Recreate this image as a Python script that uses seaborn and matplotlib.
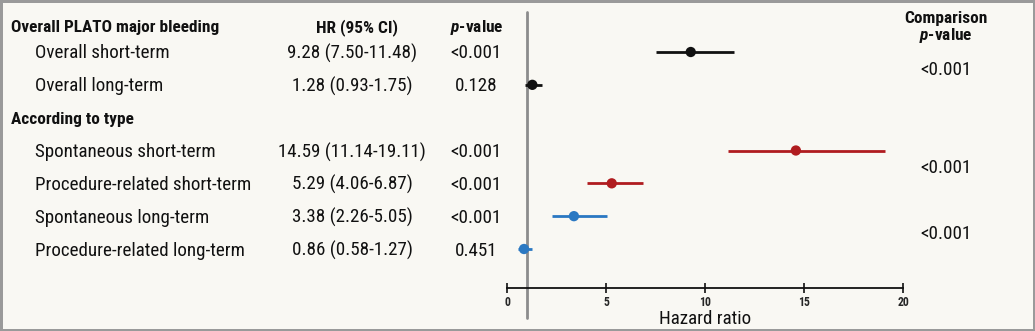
import matplotlib
matplotlib.use("Agg")
import matplotlib.pyplot as plt
import matplotlib.transforms as mtrans
import seaborn as sns
import pandas as pd

# ---- data ----
row_labels = ["Overall short-term", "Overall long-term", "According to type",
              "Spontaneous short-term", "Procedure-related short-term",
              "Spontaneous long-term", "Procedure-related long-term"]
row_is_header = [False, False, True, False, False, False, False]
hr = [9.28, 1.28, None, 14.59, 5.29, 3.38, 0.86]
ci_low = [7.50, 0.93, None, 11.14, 4.06, 2.26, 0.58]
ci_high = [11.48, 1.75, None, 19.11, 6.87, 5.05, 1.27]
hr_text = ["9.28 (7.50-11.48)", "1.28 (0.93-1.75)", "", "14.59 (11.14-19.11)",
           "5.29 (4.06-6.87)", "3.38 (2.26-5.05)", "0.86 (0.58-1.27)"]
p_text = ["<0.001", "0.128", "", "<0.001", "<0.001", "<0.001", "0.451"]
group = ["overall", "overall", None, "short", "short", "long", "long"]
comparison_rows = [0.5, 3.5, 5.5]
comparison_p = ["<0.001", "<0.001", "<0.001"]
x_ticks = [0, 5, 10, 15, 20]
header_title = "Overall PLATO major bleeding"

palette = {"overall": "#111111", "short": "#b01c1f", "long": "#2a78c2"}

# ---- style ----
sns.set_theme(style="white")
REG = "Roboto Condensed"
BOLD = "Roboto Condensed"
plt.rcParams["font.family"] = [REG, "DejaVu Sans"]
plt.rcParams["mathtext.fontset"] = "custom"
plt.rcParams["mathtext.it"] = BOLD + ":italic:bold"
plt.rcParams["mathtext.rm"] = BOLD + ":bold"
plt.rcParams["mathtext.bf"] = BOLD + ":bold"

BG = "#f9f8f3"
W, H = 1035, 331
fig = plt.figure(figsize=(W / 100, H / 100), dpi=100, facecolor=BG,
                 edgecolor="#9a9a9a", linewidth=2.5)
renderer = fig.canvas.get_renderer()


def fit_size(s, target_px, **kw):
    t = fig.text(0, 0, s, fontsize=10, **kw)
    w = t.get_window_extent(renderer).width
    t.remove()
    return 10 * target_px / w


FS = fit_size("Procedure-related short-term", 215, family=REG)
FSB = fit_size(header_title, 208, family=BOLD, fontweight="bold")

# axes placed in pixel coordinates
x0, x1 = 507, 903
ytop, ybot = 12, 288
ax = fig.add_axes([x0 / W, 1 - ybot / H, (x1 - x0) / W, (ybot - ytop) / H])
ax.set_facecolor("none")

df = pd.DataFrame({"row": range(len(row_labels)), "hr": hr, "lo": ci_low,
                   "hi": ci_high, "group": group}).dropna()

for g, sub in df.groupby("group"):
    ax.hlines(sub["row"], sub["lo"], sub["hi"], color=palette[g], lw=2.0, zorder=2)
sns.scatterplot(data=df, x="hr", y="row", hue="group", palette=palette, s=55,
                edgecolor="none", legend=False, ax=ax, zorder=3)

row0_px, row6_px = 52, 249
ppr = (row6_px - row0_px) / 6
ax.set_ylim((ybot - row0_px) / ppr, -(row0_px - ytop) / ppr)
ax.set_xlim(0, 20)
ax.axvline(1, ymin=-0.11, ymax=1, color="#8c8c8c", lw=2, clip_on=False, zorder=1)

for s in ["top", "right", "left"]:
    ax.spines[s].set_visible(False)
ax.spines["bottom"].set_color("#111111")
ax.spines["bottom"].set_linewidth(1.3)
ax.set_xticks(x_ticks)
ax.set_xticklabels([str(t) for t in x_ticks], fontsize=8.5, family=BOLD,
                   fontweight="bold")
ax.tick_params(axis="x", direction="inout", length=7, width=1.2, color="#111111",
               pad=2, bottom=True)
ax.set_yticks([])
ax.set_xlabel("Hazard ratio", fontsize=FS, labelpad=1, color="#111111")
ax.set_ylabel("")

tr0 = mtrans.blended_transform_factory(fig.transFigure, ax.transData)
tr = mtrans.offset_copy(tr0, fig=fig, y=-1.5, units="dots")
fx = lambda px: px / W
TXT = dict(color="#111111", va="center", transform=tr)
RT = dict(fontsize=FS, family=REG, **TXT)
BT = dict(fontsize=FSB, family=BOLD, fontweight="bold", **TXT)

header_row = -(row0_px - 26) / ppr
fig.text(fx(11), header_row, header_title, ha="left", **BT)
fig.text(fx(357), header_row, "HR (95% CI)", ha="center", **BT)
fig.text(fx(477), header_row, r"$p$-value", ha="center", **BT)
fig.text(fx(946), -(row0_px - 17) / ppr, "Comparison", ha="center", **BT)
fig.text(fx(946), -(row0_px - 34) / ppr, r"$p$-value", ha="center", **BT)

for i, lab in enumerate(row_labels):
    if row_is_header[i]:
        fig.text(fx(11), i, lab, ha="left", **BT)
    else:
        fig.text(fx(35), i, lab, ha="left", **RT)
        fig.text(fx(352), i, hr_text[i], ha="center", **RT)
        fig.text(fx(476), i, p_text[i], ha="center", **RT)

for r, t in zip(comparison_rows, comparison_p):
    fig.text(fx(946), r, t, ha="center", **RT)

fig.savefig("out.png", dpi=100, facecolor=BG, edgecolor=fig.get_edgecolor())
